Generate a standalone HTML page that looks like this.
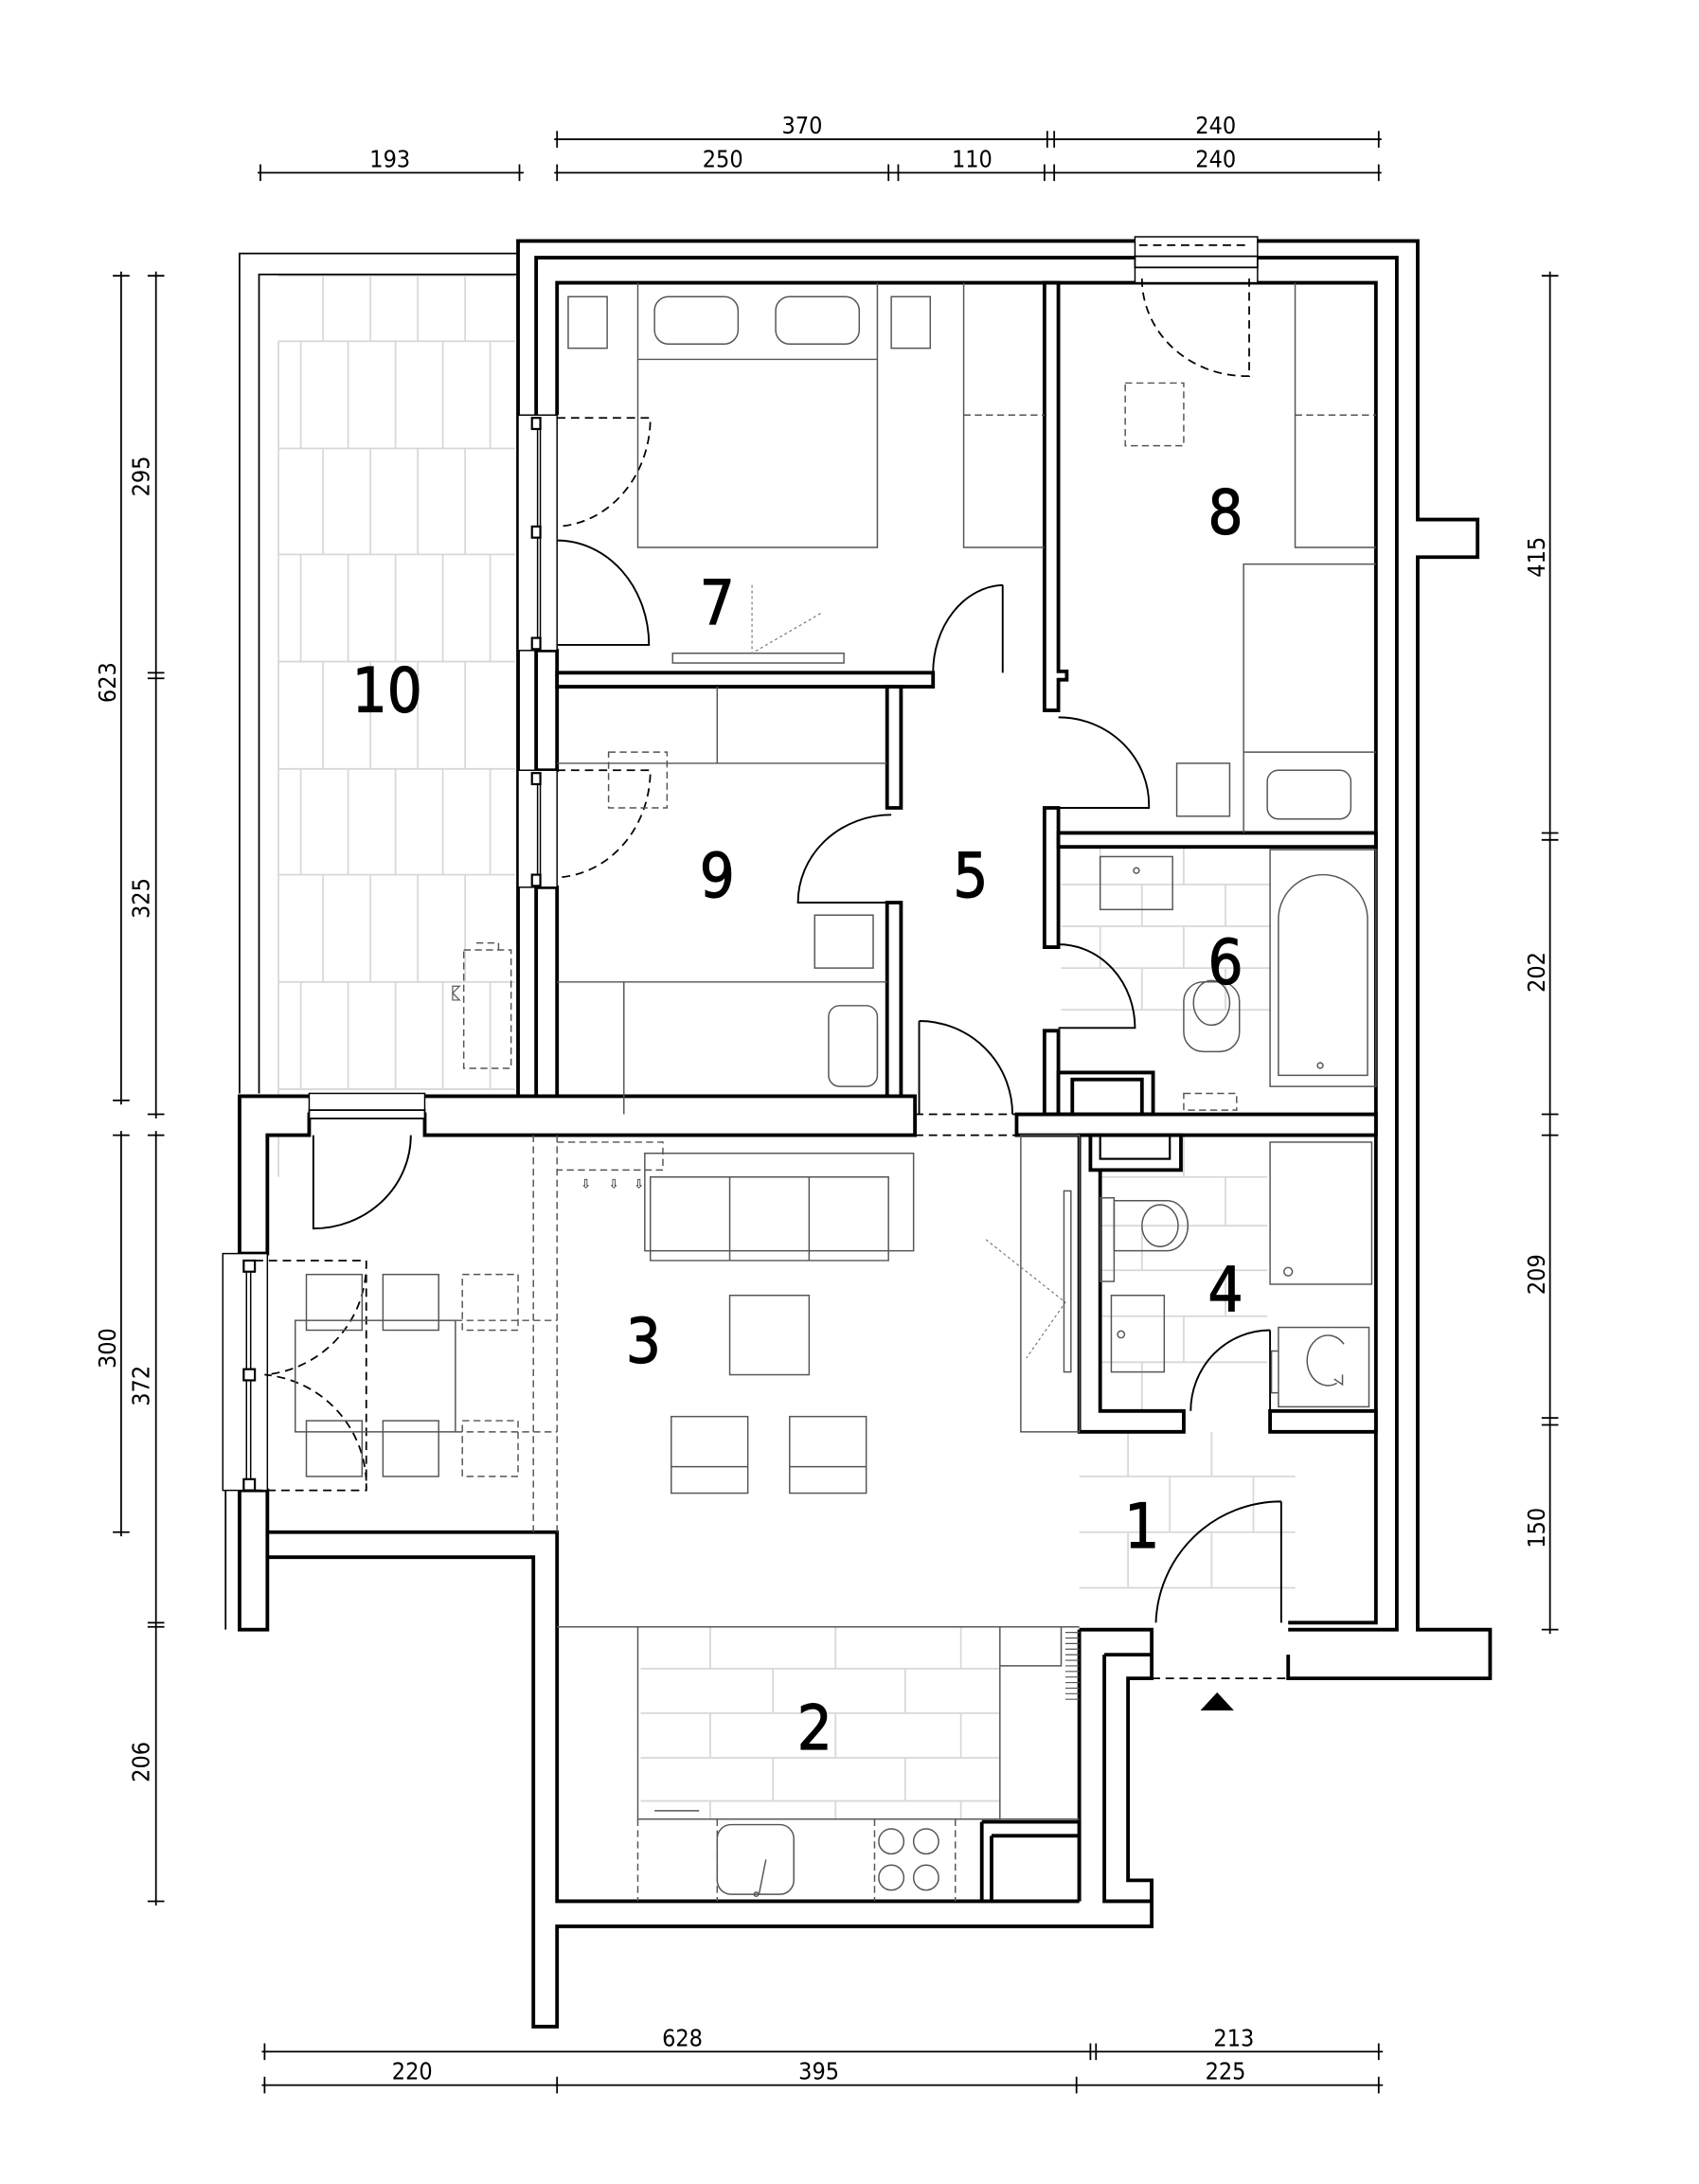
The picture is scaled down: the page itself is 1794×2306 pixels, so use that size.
<!DOCTYPE html>
<html><head><meta charset="utf-8"><style>
html,body{margin:0;padding:0;background:#fff}
svg{display:block}
.w{fill:#fff;stroke:#000;stroke-width:2.6}
.l{fill:none;stroke:#000;stroke-width:2.6}
.f{fill:none;stroke:#555;stroke-width:1}
.fd{fill:none;stroke:#555;stroke-width:1;stroke-dasharray:5 3}
.d{fill:none;stroke:#000;stroke-width:1.2;stroke-dasharray:6 4}
.t{fill:none;stroke:#d8d8d8;stroke-width:1.2}
.dim{stroke:#000;stroke-width:1.2}
.dt{font-family:"DejaVu Sans Condensed","DejaVu Sans","Liberation Sans",sans-serif;font-size:17px;text-anchor:middle}
.n{font-family:"DejaVu Sans Condensed","DejaVu Sans","Liberation Sans",sans-serif;font-size:44px;text-anchor:middle;stroke:#000;stroke-width:0.8}
</style></head><body>
<svg width="1794" height="2306" viewBox="0 0 1220 1568" preserveAspectRatio="none" xmlns="http://www.w3.org/2000/svg">
<rect width="1220" height="1568" fill="#fff"/>

<g class="dim">
<line x1="398" y1="100" x2="992" y2="100"/>
<line x1="185" y1="124" x2="376" y2="124"/>
<line x1="398" y1="124" x2="992" y2="124"/>
<path d="M400,94v12M752,94v12M757,94v12M990,94v12M187,118v12M373,118v12M400,118v12M638,118v12M645,118v12M750,118v12M757,118v12M990,118v12"/>
<line x1="188" y1="1473" x2="993" y2="1473"/>
<line x1="188" y1="1497" x2="993" y2="1497"/>
<path d="M190,1467v12M783,1467v12M787,1467v12M990,1467v12M190,1491v12M400,1491v12M773,1491v12M990,1491v12"/>
<line x1="87" y1="195" x2="87" y2="793"/>
<line x1="87" y1="812" x2="87" y2="1103"/>
<line x1="112" y1="195" x2="112" y2="803"/>
<line x1="112" y1="812" x2="112" y2="1368"/>
<path d="M81,198h12M81,790h12M81,815h12M81,1100h12M106,198h12M106,483h12M106,487h12M106,800h12M106,815h12M106,1165h12M106,1168h12M106,1365h12"/>
<line x1="1113" y1="195" x2="1113" y2="1173"/>
<path d="M1107,198h12M1107,598h12M1107,603h12M1107,800h12M1107,815h12M1107,1018h12M1107,1023h12M1107,1170h12"/>
</g>
<g class="dt">
<text x="576" y="96">370</text><text x="873" y="96">240</text>
<text x="280" y="120">193</text><text x="519" y="120">250</text><text x="698" y="120">110</text><text x="873" y="120">240</text>
<text x="490" y="1469">628</text><text x="886" y="1469">213</text>
<text x="296" y="1493">220</text><text x="588" y="1493">395</text><text x="880" y="1493">225</text>
<text transform="translate(83,490) rotate(-90)">623</text>
<text transform="translate(107,342) rotate(-90)">295</text>
<text transform="translate(107,645) rotate(-90)">325</text>
<text transform="translate(83,968) rotate(-90)">300</text>
<text transform="translate(107,995) rotate(-90)">372</text>
<text transform="translate(107,1265) rotate(-90)">206</text>
<text transform="translate(1109,400) rotate(-90)">415</text>
<text transform="translate(1109,698) rotate(-90)">202</text>
<text transform="translate(1109,915) rotate(-90)">209</text>
<text transform="translate(1109,1097) rotate(-90)">150</text>
</g>

<g class="t">
<path d="M200,198h170M200,245h170M200,322h170M200,398h170M200,475h170M200,552h170M200,628h170M200,705h170M200,782h170"/>
<path d="M232,198v47M266,198v47M300,198v47M334,198v47M200,245v600" />
<path d="M232,322v76M266,322v76M300,322v76M334,322v76M232,475v77M266,475v77M300,475v77M334,475v77M232,628v77M266,628v77M300,628v77M334,628v77"/>
<path d="M216,245v77M250,245v77M284,245v77M318,245v77M352,245v77M216,398v77M250,398v77M284,398v77M318,398v77M352,398v77M216,552v76M250,552v76M284,552v76M318,552v76M352,552v76M216,705v77M250,705v77M284,705v77M318,705v77M352,705v77"/>
</g>
<path d="M172,785V182H372M186,785V197H372" fill="none" stroke="#000" stroke-width="1.2"/>

<g class="t">
<path d="M762,635h150M762,665h150M762,695h150M762,725h150M790,608v27M850,608v27M820,635v30M880,635v30M790,665v30M850,665v30M820,695v30M880,695v30"/>
<path d="M790,845h120M790,880h120M790,912h120M790,945h120M790,978h120M850,815v30M880,845v35M820,880v32M880,912v33M850,945v33M820,978v35"/>
<path d="M775,1060h155M775,1100h155M775,1140h155M810,1028v32M870,1028v32M840,1060v40M900,1060v40M810,1100v40M870,1100v40"/>
<path d="M460,1198h258M460,1230h258M460,1262h258M460,1293h258M510,1168v30M600,1168v30M690,1168v30M555,1198v32M650,1198v32M510,1230v32M600,1230v32M690,1230v32M555,1262v31M650,1262v31M510,1293v13M600,1293v13M690,1293v13"/>
</g>

<path class="l" d="M372,790V173H1018V373H1061V400H1018V1170H1070V1205H925V1188"/>
<path class="l" d="M385,298V185H1003V1170H925"/>
<path class="l" d="M400,298V203H988V1165H925"/>
<rect class="w" x="385" y="467" width="15" height="86"/>
<rect class="w" x="385" y="637" width="15" height="163"/>
<rect x="372" y="298" width="28" height="169" fill="#fff" stroke="#000" stroke-width="1"/>
<rect x="372" y="553" width="28" height="84" fill="#fff" stroke="#000" stroke-width="1"/>
<path d="M386,300v165M388,300v165M386,555v80M388,555v80" stroke="#000" stroke-width="1"/>
<rect x="382" y="300" width="6" height="8" fill="#fff" stroke="#000" stroke-width="1.5"/>
<rect x="382" y="378" width="6" height="8" fill="#fff" stroke="#000" stroke-width="1.5"/>
<rect x="382" y="458" width="6" height="8" fill="#fff" stroke="#000" stroke-width="1.5"/>
<rect x="382" y="555" width="6" height="8" fill="#fff" stroke="#000" stroke-width="1.5"/>
<rect x="382" y="628" width="6" height="8" fill="#fff" stroke="#000" stroke-width="1.5"/>
<rect x="815" y="170" width="88" height="33" fill="#fff" stroke="#000" stroke-width="1"/>
<rect x="815" y="184" width="88" height="8" fill="#fff" stroke="#000" stroke-width="1.2"/>
<path class="d" d="M818,176h80"/>

<path class="w" d="M750,203H760V482H766V488H760V510H750Z"/>
<path class="w" d="M750,580H760V680H750Z"/>
<path class="w" d="M750,740H760V800H750Z"/>
<path class="w" d="M400,483H670V493H400Z"/>
<path class="w" d="M637,493H647V580H637Z"/>
<path class="w" d="M637,648H647V800H637Z"/>
<path class="w" d="M760,598H988V608H760Z"/>
<path class="w" d="M760,770H828V800H760Z"/>
<rect class="w" x="770" y="775" width="50" height="25"/>
<path class="w" d="M172,787H657V815H305V800H222V815H192V900H172Z"/>
<path class="w" d="M730,800H988V815H730Z"/>
<rect x="222" y="785" width="83" height="15" fill="#fff" stroke="#000" stroke-width="1"/>
<rect x="222" y="797" width="83" height="6" fill="#fff" stroke="#000" stroke-width="1.2"/>
<path class="d" d="M657,800h73M657,815h73"/>
<rect class="w" x="172" y="1070" width="20" height="100"/>
<rect x="160" y="900" width="32" height="170" fill="#fff" stroke="#000" stroke-width="1"/>
<path d="M177,905v160M180,905v160" stroke="#000" stroke-width="1"/>
<rect x="175" y="905" width="8" height="8" fill="#fff" stroke="#000" stroke-width="1.5"/>
<rect x="175" y="983" width="8" height="8" fill="#fff" stroke="#000" stroke-width="1.5"/>
<rect x="175" y="1062" width="8" height="8" fill="#fff" stroke="#000" stroke-width="1.5"/>
<path d="M162,1070v100" stroke="#000" stroke-width="1.2"/>
<path class="l" d="M192,1100H400V1365H775M192,1118H383V1455H400V1383H827V1350H810V1205H827V1188"/>
<path class="l" d="M793,1188V1365H827V1350"/>
<path class="l" d="M775,1170H827V1188H793"/>
<path class="l" d="M775,1170V1365"/>
<path class="w" d="M775,815H790V1013H850V1028H775Z"/>
<path class="w" d="M912,1013H988V1028H912Z"/>
<rect class="w" x="783" y="815" width="65" height="25"/>
<rect x="790" y="815" width="50" height="17" fill="none" stroke="#000" stroke-width="1.5"/>
<path class="d" d="M827,1205h98"/>
<path d="M862,1228l12,-13l12,13z" fill="#000"/>
<path d="M920,1078V1165M920,1078A90,90 0 0 0 830,1165" fill="none" stroke="#000" stroke-width="1.3"/>
<path d="M765,1172h10M765,1176h10M765,1180h10M765,1184h10M765,1188h10M765,1192h10M765,1196h10M765,1200h10M765,1204h10M765,1208h10M765,1212h10M765,1216h10M765,1220h10" stroke="#555" stroke-width="0.8"/>

<g fill="none" stroke="#000" stroke-width="1.3">
<path d="M720,420V483M720,420A52,63 0 0 0 670,483"/>
<path d="M760,515A65,63 0 0 1 825,580H760"/>
<path d="M640,585A67,63 0 0 0 573,648H640"/>
<path d="M760,678A55,60 0 0 1 815,738H760"/>
<path d="M660,733V800M660,733A67,67 0 0 1 727,800"/>
<path d="M400,388A66,75 0 0 1 466,463H400"/>
<path d="M225,815V882A70,67 0 0 0 295,815"/>
<path d="M912,955V1013M912,955A57,58 0 0 0 855,1013"/>
</g>
<g class="d">
<path d="M400,300H467A70,78 0 0 1 400,378"/>
<path d="M820,200A75,70 0 0 0 897,270V200"/>
<path d="M400,553H467A70,77 0 0 1 400,630"/>
<path d="M183,905H263V1070H183M263,905A80,80 0 0 1 190,987A80,80 0 0 1 263,1070"/>
</g>

<g class="f">
<rect x="408" y="213" width="28" height="37"/>
<rect x="640" y="213" width="28" height="37"/>
<rect x="470" y="213" width="60" height="34" rx="10"/>
<rect x="557" y="213" width="60" height="34" rx="10"/>
<path d="M458,203V393H630V203M458,258H630"/>
<path d="M692,203V393H750"/>
<rect x="483" y="469" width="123" height="7"/>
</g>
<path class="fd" d="M692,298H750"/>
<path d="M540,420L540,469L590,440" fill="none" stroke="#777" stroke-width="0.8" stroke-dasharray="2 2"/>
<g class="f">
<path d="M930,203V393H988"/>
<path d="M893,598V405H988"/>
<rect x="845" y="548" width="38" height="38"/>
<rect x="910" y="553" width="60" height="35" rx="8"/>
<path d="M893,540H988"/>
</g>
<path class="fd" d="M930,298H988M808,275h42v45h-42z"/>
<g class="f">
<path d="M400,548H637M515,493V548"/>
<path d="M400,705H637M448,705V800"/>
<rect x="585" y="657" width="42" height="38"/>
<rect x="595" y="722" width="35" height="58" rx="8"/>
</g>
<path class="fd" d="M437,540h42v40h-42z"/>
<g class="f">
<rect x="790" y="615" width="52" height="38"/>
<circle cx="816" cy="625" r="2"/>
<rect x="912" y="610" width="76" height="170"/>
<path d="M918,772V660A32,32 0 0 1 982,660V772Z"/>
<circle cx="948" cy="765" r="2"/>
<rect x="850" y="705" width="40" height="50" rx="14"/>
<ellipse cx="870" cy="720" rx="13" ry="16"/>
</g>
<path class="fd" d="M850,785h38v12h-38z"/>
<g class="f">
<rect x="912" y="820" width="73" height="102"/>
<circle cx="925" cy="913" r="3"/>
<path d="M800,862h38A15,18 0 0 1 838,898h-38z"/>
<ellipse cx="833" cy="880" rx="13" ry="15"/>
<rect x="790" y="860" width="10" height="60"/>
<rect x="798" y="930" width="38" height="55"/>
<circle cx="805" cy="958" r="2.5"/>
<rect x="918" y="953" width="65" height="57"/>
<path d="M918,970h-5v30h5"/>
<path d="M965,965A15,18 0 1 0 960,993"/>
<path d="M958,990l6,4l0,-7"/>
</g>
<g class="f">
<rect x="463" y="828" width="193" height="70"/>
<path d="M467,845H638V905H467ZM524,845V905M581,845V905"/>
<rect x="524" y="930" width="57" height="57"/>
<rect x="482" y="1017" width="55" height="55"/><path d="M482,1053h55"/>
<rect x="567" y="1017" width="55" height="55"/><path d="M567,1053h55"/>
<rect x="733" y="815" width="42" height="213"/>
<rect x="764" y="855" width="5" height="130"/>
<rect x="212" y="948" width="115" height="80"/>
<rect x="220" y="915" width="40" height="40"/><rect x="275" y="915" width="40" height="40"/>
<rect x="220" y="1020" width="40" height="40"/><rect x="275" y="1020" width="40" height="40"/>
</g>
<path class="fd" d="M400,820H476V840H400M332,915h40v40h-40zM332,1020h40v40h-40zM327,948H400M327,1028H400"/>
<path d="M383,815V1100M400,815V1100" class="fd"/>
<path d="M708,890L765,935L737,975" fill="none" stroke="#777" stroke-width="0.8" stroke-dasharray="2 2"/>
<g font-family="DejaVu Sans" font-size="9" fill="#000"><text x="417" y="853">⇩</text><text x="437" y="853">⇩</text><text x="455" y="853">⇩</text></g>
<path d="M325,708h5l-5,5l5,5h-5z" fill="none" stroke="#555" stroke-width="0.8"/>
<path class="fd" d="M333,682h34v85h-34zM342,677h16v5"/>
<g class="f">
<path d="M400,1168H775"/>
<path d="M458,1168V1306H718V1168"/>
<path d="M458,1306H775M718,1196H762V1168"/>
<rect x="515" y="1310" width="55" height="50" rx="10"/>
<path d="M550,1335l-5,25"/><circle cx="543" cy="1360" r="1.5"/>
<circle cx="640" cy="1322" r="9"/><circle cx="665" cy="1322" r="9"/>
<circle cx="640" cy="1348" r="9"/><circle cx="665" cy="1348" r="9"/>
<path d="M470,1300h32"/>
</g>
<path class="fd" d="M458,1306V1365M515,1306V1365M628,1306V1365M686,1306V1365"/>
<path class="l" d="M705,1308H775V1365M705,1308V1365M712,1318H775M712,1318V1365"/>

<g class="n">
<text x="278" y="511">10</text>
<text x="515" y="448">7</text>
<text x="880" y="383">8</text>
<text x="515" y="644">9</text>
<text x="697" y="644">5</text>
<text x="880" y="706">6</text>
<text x="462" y="978">3</text>
<text x="880" y="941">4</text>
<text x="820" y="1111">1</text>
<text x="585" y="1256">2</text>
</g>
</svg>
</body></html>
